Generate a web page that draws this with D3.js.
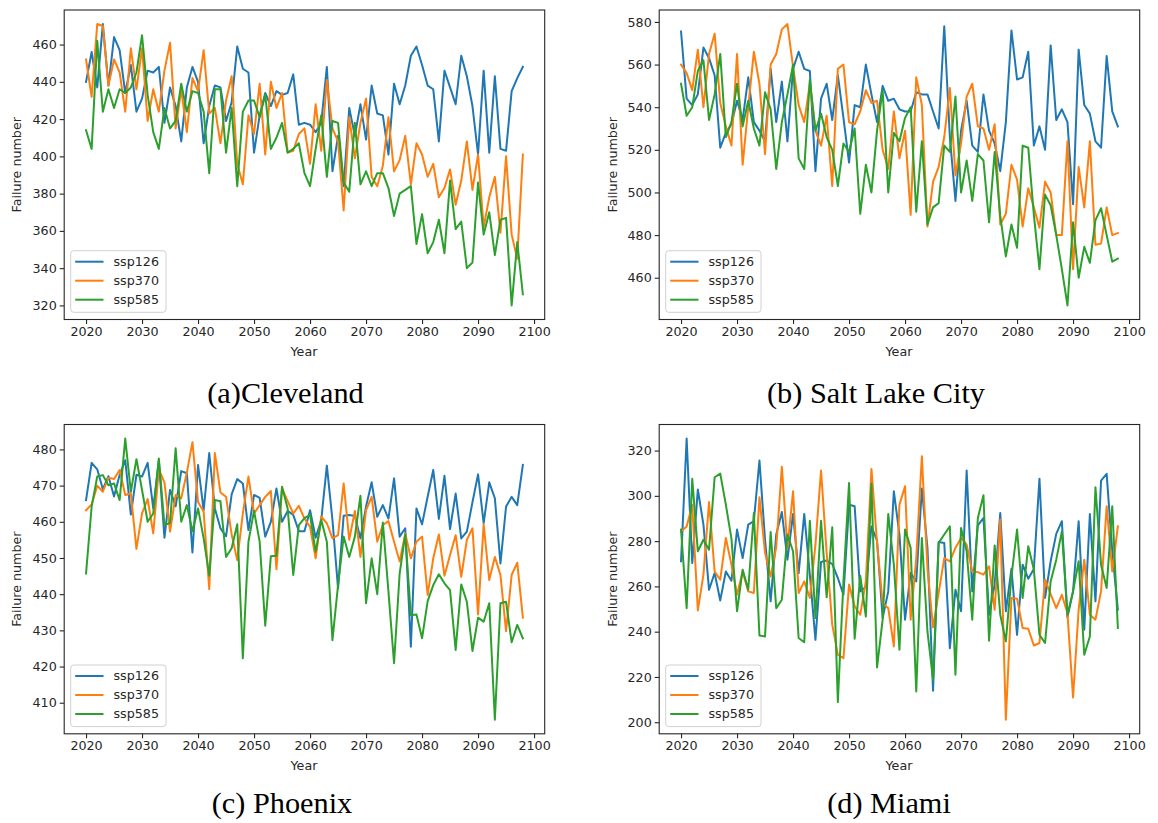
<!DOCTYPE html>
<html>
<head>
<meta charset="utf-8">
<script src="https://cdn.jsdelivr.net/npm/d3@7"></script>
<style>
  html, body { margin: 0; padding: 0; background: #fff; }
  svg { display: block; }
</style>
</head>
<body>
<svg id="chart" width="1158" height="823"></svg>
<script>
// ---- data -------------------------------------------------------------
const startYear = 2020;
const seriesNames = ["ssp126", "ssp370", "ssp585"];
const seriesColors = ["#1f77b4", "#ff7f0e", "#2ca02c"];
const yearTicks = [2020, 2030, 2040, 2050, 2060, 2070, 2080, 2090, 2100];

const clevelandSsp126 = [440,456,437,471,438,464,457,434,449,424,431,446,445,448,418,437,427,408,437,448,440,407,427,438,437,419,429,459,447,445,402,422,434,427,435,433,434,444,417,418,417,413,418,448,392,411,384,426,411,428,409,438,423,422,401,439,428,438,454,459,449,438,436,408,446,437,428,454,443,427,401,446,402,443,404,403,435,442,448];
const clevelandSsp370 = [452,432,471,470,438,452,445,424,458,436,458,419,436,424,446,461,415,436,413,442,435,457,423,426,407,430,443,396,385,422,412,439,401,440,426,434,402,403,412,415,396,428,403,441,415,408,371,421,399,418,431,389,384,395,421,392,398,411,385,407,401,389,396,378,383,393,374,387,408,382,401,362,378,389,359,400,358,345,401];
const clevelandSsp585 = [414,404,462,424,436,426,436,434,437,445,465,433,413,404,426,415,419,439,424,435,434,424,391,436,436,402,426,384,424,430,430,421,433,404,410,418,402,404,407,391,384,404,422,389,419,418,386,381,418,385,392,384,391,391,383,368,380,382,384,353,369,348,354,366,348,387,361,365,340,343,386,358,370,347,366,367,320,354,326];
const clevelandYTicks = [320, 340, 360, 380, 400, 420, 440, 460];

const saltLakeSsp126 = [575.5,544,541,546,568,563,555,521,528,532,543,534,554,533,529,524,558,533,552,524,558,566,558,557,510,544,551,534,555,535,514,541,540,560,546,533,550,543,544,539,538,538,547,546,546,538,530,578,526,496,529,543,522,519,546,529,523,510,533,576,553,554,566,522,531,520,569,534,539,533,494.5,567,541,537,524,521,564,538,531];
const saltLakeSsp370 = [560,556,548,567,540,565,574.5,542,531,522,565,513,540,566,551,518,560,565,576.5,579,559,541,533,551,529,522,536,503,558,560,533,532,538,548,542,543,520,511,538,516,529,489.5,554,541,484,505,512,526,549,508,523,545,551,531,530,520,532,485,490,513,506,484,502,493,483.5,505,500,480,480,524,464,512,493,524,475.5,476,493,480,481];
const saltLakeSsp585 = [551,536,540,557,562,534,546,565,526,533,551,531,543,530,522,547,539,511,533,546,560,516,511,553,529,537,526,520,503,523,519,530,490,513,500,529,548,500,528,524,535,540,491,524,485,493,495,522,519,545,500,515,496,518,515,486,519,489,470,485,474,522,521,489.5,464,499,494,480,464,447,486,460,474.5,467,487,492.6,480,467.5,469];
const saltLakeYTicks = [460, 480, 500, 520, 540, 560, 580];

const phoenixSsp126 = [466,476.3,474.5,469,472.6,467,473,477,462,473,472.5,476.3,463.7,477,455.6,468.8,464.3,474,473.4,451.5,475.7,463.2,479,463.7,458.2,456,467.6,471.8,470.6,457.7,467.4,466.6,455.9,460,469.2,460,463,461.9,457.4,457.4,463.2,455.6,460.5,475.5,460.5,441.6,461.7,461.9,461.6,455.4,464.2,470.9,461.4,464.6,460.9,472,455.9,458.2,425.5,463.7,459.3,466.9,474.3,460.8,472.7,458,467.8,455.4,457.3,465.4,473.1,459.6,470.9,466.5,448.5,464.2,466.9,464.6,475.7];
const phoenixSsp370 = [463.2,464.8,470,468.3,472.2,471.8,474.3,467.4,467.8,452.5,462.3,466.3,456.8,474.5,470.9,457.3,467.4,466.5,473.6,482,465.5,462.8,441.4,479,468.1,466.9,456.5,449.4,462.3,472.5,462.3,464.6,466.9,468.5,446.9,469.2,465.7,462.3,464.4,460.9,458.6,449.9,461.4,459.6,455.4,456.3,470.6,455,463,450.3,463.2,466.9,454.5,459.1,460.2,454.5,449,456.8,449.9,454.5,455.9,439.8,449.9,456.5,445.1,450.8,456.3,444.8,455,458.2,434.4,459.3,443.9,450.3,445.3,429.8,445.3,448.7,433.5];
const phoenixSsp585 = [445.7,464.2,472.5,472.9,470.1,470.6,466,483,468.3,477.3,468.8,460,462.3,477.5,459.1,459.7,480.3,460,464.6,457.4,463.7,455.4,445.1,466,465.7,450.3,452.7,459.3,422.3,454.5,463,454.5,431.3,450.5,450.6,469.7,463.7,445.3,459.1,461,461.9,451.7,460.5,454.5,427.3,442.5,455.9,450.3,455.9,467.2,437.5,449.9,440,459.8,440.7,420.9,445.7,456.5,434.2,434.4,427.8,438.1,442.5,445.5,443,441.1,424.6,442.7,437.9,424.3,433.5,432.4,437.5,405.3,437.5,437.9,426.7,431.5,427.8];
const phoenixYTicks = [410, 420, 430, 440, 450, 460, 470, 480];

const miamiSsp126 = [271.1,325.3,270.3,302.8,287.3,258.5,265.9,253.8,266.6,262.5,285.1,272.5,287.3,288.8,315.6,280.6,253.4,282.9,292.9,271.8,292,265.9,292,265.2,236.4,270.8,271.4,269.9,263.7,256.3,296.1,295.4,257.8,259.7,286.5,280.2,246,257.8,302,282.9,245.3,265.9,262.2,303.2,277,213.9,279.6,279.2,232.7,258.5,249,311.2,257.8,287,290.2,247.5,260.8,292.4,249,267.8,238.6,269.6,263.4,267.7,307.6,254.9,271.1,283.2,288.8,246.3,257.8,288.8,240.9,292,253.4,306.7,309.7,275.5,249.7];
const miamiSsp370 = [284.3,286.5,296,249.4,265.2,297.3,266.6,263,281.4,269.6,256.3,266.6,257.8,257.1,299.4,274.8,264.4,277.3,312.8,277,302,257.1,262.2,254.9,278.4,311.2,274.8,243.1,229.8,228.3,260.8,251.2,247.5,262.2,311.9,279.2,252.6,250.4,233.5,296.1,304.2,245.3,272.5,317.5,268.1,241.9,257.1,272.5,271.1,277,281.4,278.4,266.6,266.3,265.2,268.9,249.7,289.5,201.1,254.9,254.6,241.6,241.3,233.9,235,263,256.6,250.4,256.3,248.2,210.9,249.7,271.8,247.5,245.3,257.8,295.4,266.6,286.5];
const miamiSsp585 = [285.1,250.4,307.5,275.5,280.6,276.2,308.2,309.8,296.1,281.1,249,267.4,258.5,292.4,238.3,237.9,284,250.4,254.1,282.9,275.5,237.2,235.3,289,246,289,255.2,286.1,208.9,262.2,305.7,236.9,264.7,246.7,305.3,224.2,245.3,292,269.6,232,285.1,277,213.6,281.4,240.1,218.7,279.2,282.9,286.5,221,285.8,275.5,245.3,290.2,300.3,236,278.1,247.5,235.7,264.4,285.1,254.9,277.7,267.4,238.6,235,262.2,271.8,284.3,247.5,257.8,271.1,229.8,237.9,303.8,269.6,259.3,295.4,241.6];
const miamiYTicks = [200, 220, 240, 260, 280, 300, 320];

// ---- layout -----------------------------------------------------------
const panels = [
  { x: 64.2,  y: 10,    w: 480.5, h: 309.5, caption: "(a)Cleveland",       capX: 285.5, capY: 403,
    series: [clevelandSsp126, clevelandSsp370, clevelandSsp585], yTicks: clevelandYTicks },
  { x: 659.2, y: 10,    w: 480.5, h: 309.5, caption: "(b) Salt Lake City", capX: 876,   capY: 403,
    series: [saltLakeSsp126, saltLakeSsp370, saltLakeSsp585], yTicks: saltLakeYTicks },
  { x: 64.2,  y: 424.5, w: 480.5, h: 309.3, caption: "(c) Phoenix",        capX: 282,   capY: 813,
    series: [phoenixSsp126, phoenixSsp370, phoenixSsp585], yTicks: phoenixYTicks },
  { x: 659.2, y: 424.5, w: 480.5, h: 309.3, caption: "(d) Miami",          capX: 889,   capY: 813,
    series: [miamiSsp126, miamiSsp370, miamiSsp585], yTicks: miamiYTicks }
];

const tickFont = "'DejaVu Sans', sans-serif";
const tickSize = 12.7;
const ink = "#262626";

const svg = d3.select("#chart");

function drawPanel(p) {
  const g = svg.append("g").attr("transform", `translate(${p.x},${p.y})`);
  const n = p.series[0].length;
  const years = d3.range(startYear, startYear + n);

  // matplotlib-style 5% margins around the data
  const xPad = (years[n - 1] - years[0]) * 0.05;
  const x = d3.scaleLinear()
    .domain([years[0] - xPad, years[n - 1] + xPad])
    .range([0, p.w]);
  const all = p.series.flat();
  const lo = d3.min(all), hi = d3.max(all), yPad = (hi - lo) * 0.05;
  const y = d3.scaleLinear().domain([lo - yPad, hi + yPad]).range([p.h, 0]);

  const line = d3.line().x((d, i) => x(years[i])).y(d => y(d));

  p.series.forEach((vals, si) => {
    g.append("path")
      .datum(vals)
      .attr("d", line)
      .attr("fill", "none")
      .attr("stroke", seriesColors[si])
      .attr("stroke-width", 2)
      .attr("stroke-linejoin", "round")
      .attr("stroke-linecap", "square");
  });

  // axes
  const xAxis = g.append("g")
    .attr("transform", `translate(0,${p.h})`)
    .call(d3.axisBottom(x).tickValues(yearTicks).tickFormat(d3.format("d"))
      .tickSize(4.5).tickPadding(3));
  const yAxis = g.append("g")
    .call(d3.axisLeft(y).tickValues(p.yTicks).tickFormat(d3.format("d"))
      .tickSize(4.5).tickPadding(3));
  [xAxis, yAxis].forEach(a => {
    a.select(".domain").remove();
    a.selectAll(".tick line").attr("stroke", ink).attr("stroke-width", 1.1);
    a.selectAll(".tick text")
      .attr("fill", ink)
      .style("font-family", tickFont)
      .style("font-size", tickSize + "px");
  });

  // frame
  g.append("rect")
    .attr("x", 0).attr("y", 0).attr("width", p.w).attr("height", p.h)
    .attr("fill", "none").attr("stroke", ink).attr("stroke-width", 1.1);

  // axis titles
  g.append("text")
    .attr("x", p.w / 2 - 0.5).attr("y", p.h + 36.5)
    .attr("text-anchor", "middle")
    .attr("fill", ink)
    .style("font-family", tickFont).style("font-size", tickSize + "px")
    .text("Year");
  g.append("text")
    .attr("transform", `translate(-42.7,${p.h / 2}) rotate(-90)`)
    .attr("text-anchor", "middle")
    .attr("fill", ink)
    .style("font-family", tickFont).style("font-size", tickSize + "px")
    .text("Failure number");

  // legend
  const lg = g.append("g").attr("transform", `translate(6.5,${p.h - 68.8})`);
  lg.append("rect")
    .attr("width", 95.3).attr("height", 61.6).attr("rx", 3)
    .attr("fill", "#fff").attr("fill-opacity", 0.8)
    .attr("stroke", "#d0d0d0").attr("stroke-width", 1);
  seriesNames.forEach((name, si) => {
    const cy = 11 + si * 19;
    lg.append("line")
      .attr("x1", 4.5).attr("x2", 32.8).attr("y1", cy).attr("y2", cy)
      .attr("stroke", seriesColors[si]).attr("stroke-width", 2);
    lg.append("text")
      .attr("x", 42.8).attr("y", cy)
      .attr("dy", "0.35em")
      .attr("fill", ink)
      .style("font-family", tickFont).style("font-size", tickSize + "px")
      .text(name);
  });

  // caption under the panel
  svg.append("text")
    .attr("x", p.capX).attr("y", p.capY)
    .attr("text-anchor", "middle")
    .attr("fill", "#000")
    .style("font-family", "'Liberation Serif', 'Times New Roman', serif")
    .style("font-size", "30.3px")
    .text(p.caption);
}

panels.forEach(drawPanel);
</script>
</body>
</html>
